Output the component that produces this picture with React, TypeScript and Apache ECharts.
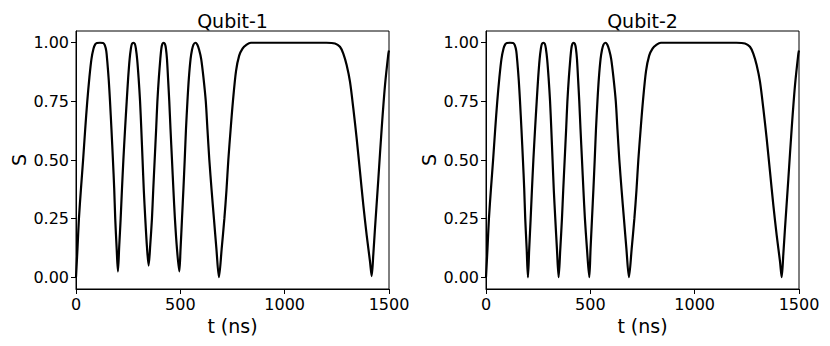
import React, { useEffect, useRef } from "react";
import * as echarts from "echarts";

// time samples (ns)
const T = [
  0, 7, 14, 24, 34, 44, 54, 64, 74, 84, 92, 100, 115, 130, 138, 145, 150, 157, 163, 170, 177, 183, 188, 195,
  201, 207, 214, 220, 227, 235, 243, 250, 257, 263, 268, 275, 282, 287, 293, 300, 307, 313, 319, 325, 332, 340,
  348, 356, 364, 370, 377, 384, 390, 397, 404, 409, 414, 420, 426, 431, 436, 441, 447, 453, 460, 467, 474, 484,
  495, 501, 508, 515, 521, 527, 534, 541, 549, 556, 563, 572, 581, 590, 600, 611, 622, 630, 639, 650, 661, 673,
  685, 698, 711, 721, 730, 741, 752, 767, 782, 798, 815, 838, 900, 1000, 1100, 1200, 1241, 1265, 1281,
  1297, 1313, 1329, 1345, 1361, 1377, 1393, 1409, 1417, 1425, 1433, 1449, 1465, 1481, 1497, 1500,
];

// S for Qubit-1
const S_QUBIT1 = [
  0.0, 0.12, 0.25, 0.38, 0.5, 0.63, 0.75, 0.85, 0.93, 0.975, 0.993, 0.999, 1.0, 0.999, 0.99, 0.965, 0.92, 0.84, 0.75, 0.63, 0.5, 0.38, 0.25, 0.12,
  0.025, 0.13, 0.25, 0.37, 0.5, 0.63, 0.75, 0.85, 0.93, 0.975, 0.995, 1.0, 0.995, 0.975, 0.93, 0.85, 0.75, 0.63, 0.5, 0.37, 0.25, 0.13,
  0.05, 0.14, 0.25, 0.37, 0.5, 0.63, 0.75, 0.85, 0.93, 0.975, 0.995, 1.0, 0.995, 0.975, 0.93, 0.85, 0.75, 0.63, 0.5, 0.37, 0.25, 0.12,
  0.025, 0.12, 0.25, 0.38, 0.5, 0.63, 0.75, 0.85, 0.93, 0.97, 0.992, 1.0, 0.992, 0.97, 0.93, 0.85, 0.75, 0.63, 0.5, 0.37, 0.25, 0.12,
  0.0, 0.12, 0.25, 0.37, 0.5, 0.63, 0.75, 0.88, 0.945, 0.975, 0.99, 1.0, 1.0, 1.0, 1.0, 1.0, 0.997, 0.983, 0.954,
  0.905, 0.834, 0.72, 0.592, 0.45, 0.308, 0.18, 0.067, 0.005, 0.1, 0.21, 0.42, 0.635, 0.82, 0.954, 0.967,
];

// S for Qubit-2
const S_QUBIT2 = [
  0.0, 0.12, 0.25, 0.38, 0.5, 0.63, 0.75, 0.85, 0.93, 0.975, 0.993, 0.999, 1.0, 0.999, 0.99, 0.965, 0.92, 0.84, 0.75, 0.63, 0.5, 0.38, 0.25, 0.12,
  0.0, 0.12, 0.25, 0.37, 0.5, 0.63, 0.75, 0.85, 0.93, 0.975, 0.995, 1.0, 0.995, 0.975, 0.93, 0.85, 0.75, 0.63, 0.5, 0.37, 0.25, 0.12,
  0.0, 0.12, 0.25, 0.37, 0.5, 0.63, 0.75, 0.85, 0.93, 0.975, 0.995, 1.0, 0.995, 0.975, 0.93, 0.85, 0.75, 0.63, 0.5, 0.37, 0.25, 0.12,
  0.0, 0.12, 0.25, 0.38, 0.5, 0.63, 0.75, 0.85, 0.93, 0.97, 0.992, 1.0, 0.992, 0.97, 0.93, 0.85, 0.75, 0.63, 0.5, 0.37, 0.25, 0.12,
  0.0, 0.12, 0.25, 0.37, 0.5, 0.63, 0.75, 0.88, 0.945, 0.975, 0.99, 1.0, 1.0, 1.0, 1.0, 1.0, 0.997, 0.983, 0.954,
  0.905, 0.834, 0.72, 0.592, 0.45, 0.308, 0.18, 0.067, 0.0, 0.1, 0.21, 0.42, 0.635, 0.82, 0.954, 0.967,
];

const TITLES = ["Qubit-1", "Qubit-2"];
const X_LABEL = "t (ns)";
const Y_LABEL = "S";
const Y_TICKS = [0, 0.25, 0.5, 0.75, 1.0];

export default function App() {
  const ref = useRef<HTMLDivElement>(null);

  useEffect(() => {
    if (!ref.current) return;
    const chart = echarts.init(ref.current, null, { renderer: "svg" });
    const font = "DejaVu Sans";
    const grids = [
      { left: 76, top: 31, width: 313, height: 258 },
      { left: 486, top: 31, width: 313, height: 258 },
    ];
    const seriesData = [S_QUBIT1, S_QUBIT2].map((s) => T.map((t, i) => [t, s[i]]));

    chart.setOption({
      animation: false,
      backgroundColor: "#ffffff",
      title: TITLES.map((text, i) => ({
        text,
        left: grids[i].left + grids[i].width / 2,
        top: 11,
        padding: 0,
        textAlign: "center",
        textStyle: { fontFamily: font, fontSize: 19, fontWeight: "normal", color: "#000" },
      })),
      grid: grids.map((g) => ({
        ...g,
        show: true,
        borderColor: "#000",
        borderWidth: 1,
        backgroundColor: "transparent",
      })),
      xAxis: grids.map((_, i) => ({
        type: "value",
        gridIndex: i,
        min: 0,
        max: 1500,
        interval: 500,
        name: X_LABEL,
        nameLocation: "middle",
        nameGap: 20,
        nameTextStyle: { fontFamily: font, fontSize: 19, color: "#000" },
        axisLine: { show: true, onZero: false, lineStyle: { color: "#000", width: 1 } },
        axisTick: { show: true, length: 5, inside: false, lineStyle: { color: "#000", width: 1 } },
        axisLabel: {
          fontFamily: font,
          fontSize: 16,
          color: "#000",
          margin: 7,
          formatter: (v: number) => String(v),
        },
        splitLine: { show: false },
      })),
      yAxis: grids.map((_, i) => ({
        type: "value",
        gridIndex: i,
        min: -0.05,
        max: 1.05,
        name: Y_LABEL,
        nameLocation: "middle",
        nameGap: 48,
        nameTextStyle: { fontFamily: font, fontSize: 19, color: "#000" },
        axisLine: { show: true, onZero: false, lineStyle: { color: "#000", width: 1 } },
        axisTick: {
          show: true,
          length: 5,
          inside: false,
          customValues: Y_TICKS,
          lineStyle: { color: "#000", width: 1 },
        },
        axisLabel: {
          fontFamily: font,
          fontSize: 16,
          color: "#000",
          margin: 7,
          customValues: Y_TICKS,
          formatter: (v: number) => v.toFixed(2),
        },
        splitLine: { show: false },
      })),
      series: seriesData.map((data, i) => ({
        type: "line",
        name: TITLES[i],
        xAxisIndex: i,
        yAxisIndex: i,
        data,
        showSymbol: false,
        smooth: 0.3,
        lineStyle: { color: "#000", width: 2.2 },
        itemStyle: { color: "#000" },
      })),
    });

    return () => chart.dispose();
  }, []);

  return (
    <div
      ref={ref}
      style={{ position: "fixed", left: 0, top: 0, width: 830, height: 346, background: "#fff" }}
    />
  );
}
